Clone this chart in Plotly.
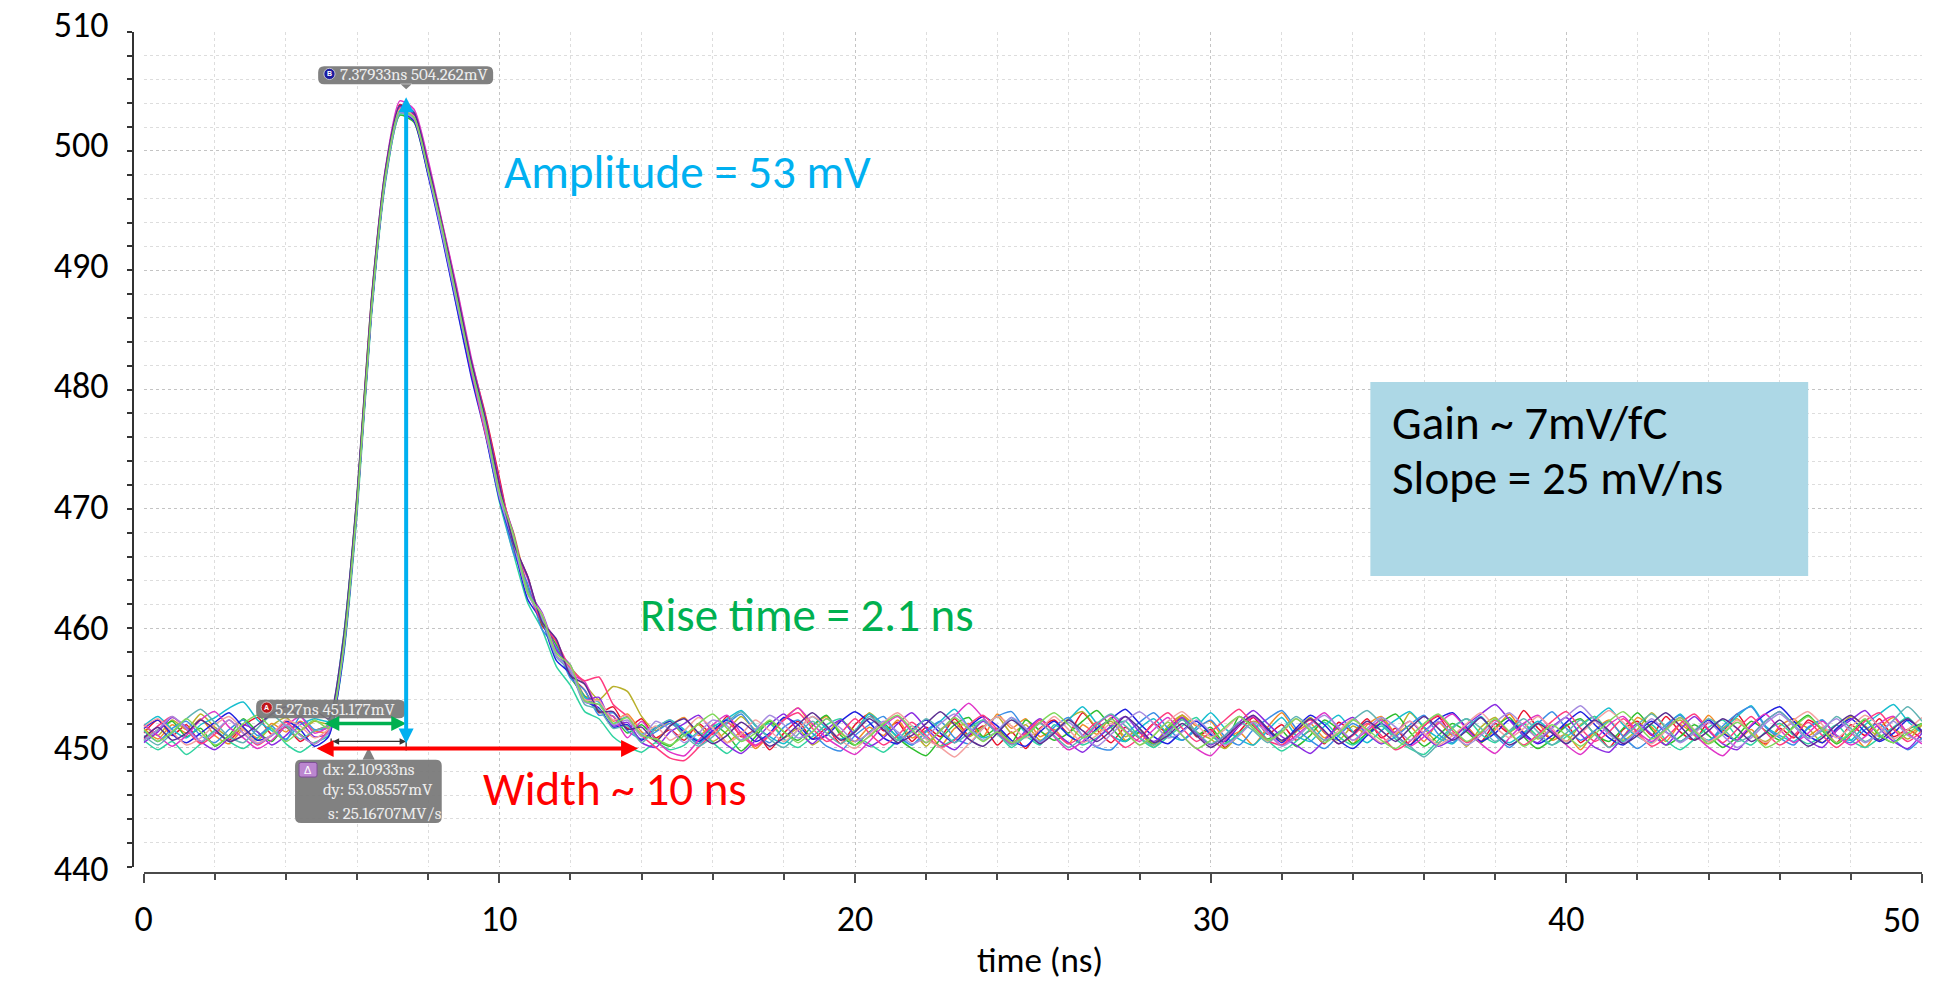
import plotly.graph_objects as go

# ---------------- data ----------------
time_ns = [
    0.0, 0.4, 0.8, 1.2, 1.6, 2.0, 2.4, 2.8, 3.2, 3.6, 4.0, 4.4, 4.8,
    5.2, 5.6, 6.0, 6.4, 6.8, 7.2, 7.6, 8.0, 8.4, 8.8, 9.2, 9.6, 10.0, 10.4, 10.8, 11.2, 11.6, 12.0, 12.4, 12.8, 13.2, 13.6, 14.0, 14.4, 14.8,
    15.2, 15.6, 16.0, 16.4, 16.8, 17.2, 17.6, 18.0, 18.4, 18.8, 19.2,
    19.6, 20.0, 20.4, 20.8, 21.2, 21.6, 22.0, 22.4, 22.8, 23.2, 23.6,
    24.0, 24.4, 24.8, 25.2, 25.6, 26.0, 26.4, 26.8, 27.2, 27.6, 28.0,
    28.4, 28.8, 29.2, 29.6, 30.0, 30.4, 30.8, 31.2, 31.6, 32.0, 32.4,
    32.8, 33.2, 33.6, 34.0, 34.4, 34.8, 35.2, 35.6, 36.0, 36.4, 36.8,
    37.2, 37.6, 38.0, 38.4, 38.8, 39.2, 39.6, 40.0, 40.4, 40.8, 41.2,
    41.6, 42.0, 42.4, 42.8, 43.2, 43.6, 44.0, 44.4, 44.8, 45.2, 45.6,
    46.0, 46.4, 46.8, 47.2, 47.6, 48.0, 48.4, 48.8, 49.2, 49.6, 50.0,
]

sig_01 = [
    451.2, 452.3, 451.0, 451.9, 450.4, 451.3, 450.6, 451.8, 452.5, 451.1, 451.7, 450.5, 451.4,
    451.9, 458.4, 470.9, 487.1, 498.3, 503.9, 503.0, 498.9, 493.8, 488.4, 482.6, 478.0, 472.6, 467.1, 464.3, 460.2, 458.9, 456.0, 454.8, 452.9, 453.4, 451.6, 452.4, 450.8, 451.5,
    450.6, 452.0, 451.1, 452.6, 450.9, 451.4, 449.8, 451.2, 452.2, 450.7, 451.6,
    450.3, 451.9, 452.8, 451.4, 452.1, 450.5, 451.7, 450.9, 452.4, 451.0, 451.8,
    450.2, 451.3, 449.9, 451.6, 452.3, 451.2, 452.9, 451.5, 450.4, 451.7, 450.8,
    452.0, 451.2, 452.7, 450.9, 451.5, 450.0, 451.3, 452.5, 451.1, 451.9, 450.6,
    451.4, 450.3, 452.1, 451.3, 452.4, 450.8, 451.6, 450.2, 451.8, 452.6, 451.0,
    451.7, 450.5, 452.0, 451.2, 453.1, 451.6, 450.7, 451.9, 450.4, 451.3, 450.0,
    451.5, 452.2, 451.0, 452.6, 451.3, 450.6, 452.1, 451.4, 452.8, 451.1, 450.3,
    451.6, 450.8, 452.3, 451.5, 450.4, 451.9, 451.0, 452.4, 450.9, 451.5, 450.7,
]
sig_02 = [
    451.6, 450.7, 451.9, 451.2, 452.4, 451.0, 450.3, 451.5, 450.8, 452.0, 451.3, 452.2, 451.4,
    451.3, 457.6, 470.0, 486.5, 497.8, 503.5, 503.2, 498.8, 493.0, 487.9, 482.3, 477.5, 471.2, 468.0, 463.4, 461.0, 458.1, 456.7, 454.3, 453.9, 452.2, 452.8, 451.3, 450.6, 451.8,
    452.5, 451.0, 451.8, 450.4, 451.3, 449.9, 451.1, 452.4, 453.3, 451.9, 452.6,
    451.2, 450.5, 451.7, 451.0, 452.3, 450.8, 451.4, 450.1, 451.6, 452.0, 450.9,
    452.8, 451.6, 452.4, 450.9, 451.5, 450.3, 451.9, 451.1, 452.5, 450.6, 451.2,
    450.0, 451.4, 452.7, 451.8, 452.2, 450.7, 451.3, 450.2, 451.7, 452.9, 451.4,
    452.0, 450.8, 451.6, 450.3, 451.9, 452.6, 451.2, 451.8, 450.5, 452.1, 451.0,
    451.7, 450.4, 451.5, 452.8, 451.3, 452.0, 450.6, 451.1, 449.8, 451.4, 452.3,
    451.0, 452.5, 451.7, 450.5, 451.9, 451.2, 452.7, 451.3, 450.6, 451.5, 450.2,
    451.8, 452.4, 451.0, 451.7, 450.3, 451.2, 450.0, 451.6, 452.5, 451.1, 451.9,
]
sig_03 = [
    451.9, 451.0, 452.3, 451.5, 452.8, 451.7, 450.9, 451.6, 450.6, 451.8, 452.5, 451.4, 452.2,
    452.0, 458.6, 471.2, 487.4, 498.2, 503.2, 502.6, 498.2, 493.1, 487.2, 481.7, 476.8, 471.0, 466.6, 463.0, 460.9, 457.7, 456.7, 455.3, 454.0, 455.1, 454.7, 452.6, 451.4, 452.2,
    451.0, 451.9, 450.5, 451.4, 452.6, 451.5, 452.2, 450.8, 451.6, 450.2, 451.1,
    452.3, 451.4, 452.9, 451.8, 450.6, 451.4, 450.1, 451.5, 452.1, 450.9, 451.7,
    452.6, 451.2, 451.9, 450.6, 451.3, 452.4, 453.0, 451.7, 452.2, 450.9, 451.5,
    450.3, 451.8, 452.7, 451.3, 450.7, 449.9, 451.1, 452.2, 451.6, 450.5, 451.3,
    452.5, 451.2, 450.6, 451.8, 451.1, 452.4, 451.0, 452.9, 451.6, 450.4, 451.2,
    450.1, 451.7, 452.5, 451.3, 452.0, 450.7, 451.4, 450.5, 451.9, 452.6, 451.3,
    450.6, 451.5, 452.9, 451.7, 452.3, 451.0, 450.3, 451.6, 452.4, 451.2, 450.5,
    451.3, 452.1, 451.6, 450.4, 451.5, 452.6, 451.8, 450.9, 451.6, 450.7, 451.9,
]
sig_04 = [
    450.6, 451.5, 452.2, 450.9, 451.6, 450.1, 451.0, 452.4, 451.3, 450.5, 451.8, 451.1, 450.3,
    451.4, 457.8, 470.3, 486.4, 497.6, 503.0, 502.4, 498.0, 493.6, 488.1, 482.0, 477.4, 471.6, 467.2, 463.3, 460.4, 458.6, 455.9, 454.3, 453.0, 452.6, 451.2, 451.9, 450.7, 450.1,
    451.2, 450.3, 451.9, 451.1, 449.7, 450.9, 452.2, 451.3, 450.6, 451.8, 452.7,
    451.0, 450.2, 451.3, 452.0, 450.8, 449.9, 449.3, 450.7, 451.9, 452.5, 450.9,
    451.6, 450.4, 452.3, 451.4, 450.6, 451.2, 452.2, 453.1, 451.7, 450.5, 451.3,
    450.2, 451.6, 452.4, 451.0, 451.7, 450.3, 452.6, 451.8, 450.7, 451.4, 450.1,
    451.0, 452.3, 451.5, 450.3, 451.2, 452.1, 452.8, 451.3, 450.1, 451.0, 452.0,
    451.3, 450.4, 451.7, 452.5, 450.9, 449.9, 450.7, 451.8, 452.4, 451.1, 450.5,
    451.6, 452.9, 451.5, 450.2, 450.9, 451.9, 451.0, 450.0, 450.9, 452.2, 451.4,
    450.6, 451.8, 452.7, 451.4, 450.3, 451.2, 452.3, 451.0, 450.4, 451.5, 452.0,
]
sig_05 = [
    450.6, 449.8, 450.5, 449.4, 450.3, 451.4, 450.5, 449.9, 450.8, 451.6, 450.3, 449.6, 450.4,
    451.0, 457.2, 469.6, 486.0, 497.4, 503.1, 502.7, 498.1, 492.8, 487.0, 481.4, 476.5, 470.6, 466.2, 462.1, 459.9, 456.8, 455.2, 453.0, 452.4, 450.9, 450.1, 449.6, 450.4, 449.8,
    450.2, 451.3, 450.4, 449.5, 450.6, 451.4, 452.0, 450.7, 450.0, 450.9, 451.9,
    452.4, 451.0, 450.3, 449.6, 450.6, 451.8, 450.8, 450.1, 450.7, 451.6, 452.3,
    451.2, 450.0, 450.9, 450.2, 451.9, 451.1, 450.2, 450.8, 451.7, 452.2, 450.8,
    450.0, 450.9, 451.8, 452.5, 451.0, 450.3, 451.2, 452.0, 450.6, 449.7, 450.5,
    451.5, 452.1, 450.9, 450.2, 451.0, 451.8, 450.7, 449.9, 449.4, 450.6, 451.7,
    452.4, 451.1, 450.4, 451.3, 452.0, 450.9, 450.2, 450.9, 451.8, 452.6, 451.2,
    450.5, 451.2, 451.9, 450.6, 449.8, 450.7, 451.7, 452.3, 450.9, 450.2, 451.3,
    452.0, 451.0, 450.3, 451.0, 451.9, 450.6, 450.0, 450.8, 451.7, 452.5, 451.1,
]
sig_06 = [
    451.8, 452.6, 451.5, 450.8, 451.9, 452.5, 453.3, 453.8, 452.3, 451.4, 450.7, 451.9, 452.4,
    452.2, 458.9, 471.0, 486.9, 498.4, 503.8, 503.3, 499.0, 493.5, 488.0, 482.4, 477.3, 471.5, 467.6, 463.1, 461.1, 458.0, 456.6, 454.2, 453.8, 452.0, 452.6, 451.1, 451.7, 452.3,
    451.5, 450.6, 451.7, 452.4, 453.1, 451.8, 450.9, 450.3, 451.5, 452.6, 451.6,
    450.7, 451.4, 452.8, 451.9, 450.9, 450.2, 451.3, 452.2, 453.2, 451.7, 450.8,
    451.3, 452.5, 451.2, 450.4, 451.3, 452.3, 453.4, 452.0, 451.0, 450.5, 451.6,
    452.4, 451.1, 450.6, 451.7, 452.9, 451.6, 450.7, 450.2, 451.4, 452.5, 451.0,
    450.5, 451.8, 452.7, 451.3, 450.4, 451.4, 452.3, 453.0, 451.7, 450.8, 450.3,
    451.6, 452.6, 451.1, 450.4, 451.2, 452.2, 451.3, 450.3, 451.3, 452.4, 453.3,
    451.9, 450.9, 450.4, 451.7, 452.8, 451.4, 450.6, 451.5, 452.6, 453.5, 451.8,
    451.0, 450.5, 451.6, 452.3, 451.0, 450.6, 451.9, 452.8, 453.6, 452.2, 451.2,
]
sig_07 = [
    451.4, 450.5, 451.6, 452.2, 451.0, 450.4, 451.5, 452.3, 451.0, 451.8, 450.6, 452.6, 451.5,
    451.7, 458.2, 470.6, 486.6, 497.9, 503.4, 502.8, 498.3, 493.0, 487.4, 481.5, 476.9, 471.1, 466.3, 463.7, 459.9, 458.4, 455.8, 454.8, 452.7, 452.9, 451.4, 450.7, 451.3, 452.0,
    451.2, 450.3, 451.4, 452.0, 452.8, 451.3, 450.4, 451.7, 452.3, 451.2, 450.1,
    449.7, 451.0, 451.9, 452.6, 451.1, 450.2, 451.4, 452.2, 450.8, 450.3, 451.6,
    452.6, 453.0, 451.4, 450.5, 451.7, 452.5, 451.0, 450.0, 449.8, 451.1, 452.1,
    452.9, 451.6, 450.6, 451.5, 452.3, 450.9, 450.2, 451.5, 452.4, 453.1, 451.6,
    450.6, 449.9, 451.0, 452.0, 451.2, 450.3, 450.9, 451.9, 452.7, 451.1, 450.4,
    451.6, 452.5, 451.0, 450.0, 451.1, 452.0, 453.0, 451.6, 450.6, 451.4, 452.2,
    450.9, 449.9, 450.8, 451.9, 452.7, 451.2, 450.5, 451.8, 452.8, 453.4, 451.7,
    450.8, 450.2, 451.7, 452.3, 450.9, 450.4, 451.5, 452.0, 450.7, 449.8, 450.8,
]
sig_08 = [
    451.6, 452.3, 451.1, 450.4, 451.2, 452.1, 452.9, 451.7, 450.6, 451.0, 452.2, 451.5, 450.1,
    450.9, 457.4, 470.1, 486.3, 497.7, 503.3, 502.5, 497.9, 492.6, 486.9, 481.2, 476.3, 470.8, 466.9, 462.4, 460.6, 457.3, 456.2, 453.9, 453.3, 451.7, 451.9, 450.6, 451.6, 452.2,
    451.3, 450.5, 451.4, 452.3, 451.6, 450.5, 451.2, 452.5, 451.9, 450.7, 451.0,
    452.2, 453.0, 452.1, 450.8, 450.3, 451.5, 452.3, 451.2, 450.4, 451.7, 452.6,
    451.8, 450.6, 450.1, 451.3, 452.2, 451.0, 450.4, 451.6, 452.4, 453.2, 452.0,
    450.9, 450.3, 451.4, 452.2, 451.1, 450.5, 451.8, 452.6, 451.5, 450.4, 451.6,
    452.7, 451.9, 450.6, 449.9, 451.0, 452.0, 451.0, 450.2, 451.3, 452.4, 452.9,
    451.6, 450.5, 451.2, 452.3, 451.2, 450.3, 451.0, 452.1, 453.0, 451.9, 450.8,
    450.2, 451.3, 452.2, 451.3, 450.5, 451.4, 452.3, 451.2, 450.6, 451.8, 452.8,
    453.4, 452.2, 451.0, 450.4, 451.6, 452.4, 451.3, 450.5, 451.2, 452.3, 451.4,
]
sig_09 = [
    450.4, 451.3, 452.5, 451.7, 450.5, 449.8, 450.8, 451.9, 451.3, 450.2, 451.0, 452.1, 450.9,
    451.2, 457.9, 470.4, 486.6, 498.1, 503.7, 503.1, 498.7, 493.4, 487.9, 481.6, 477.2, 471.7, 467.9, 463.2, 461.3, 458.2, 456.9, 454.0, 454.2, 451.8, 452.1, 450.4, 450.0, 451.3,
    452.0, 452.7, 451.3, 450.2, 449.5, 450.6, 451.9, 452.8, 451.4, 450.3, 451.5,
    452.3, 451.0, 450.1, 450.8, 452.0, 452.9, 451.6, 450.5, 449.8, 451.0, 452.2,
    451.2, 450.3, 451.4, 452.4, 451.3, 450.4, 449.6, 450.7, 451.8, 452.6, 451.3,
    450.5, 451.4, 452.5, 451.2, 450.2, 451.0, 452.1, 453.1, 452.0, 450.9, 450.2,
    449.5, 450.6, 451.8, 452.5, 451.2, 450.3, 451.3, 452.2, 451.0, 450.1, 450.7,
    451.9, 452.8, 453.6, 452.3, 451.0, 450.4, 451.7, 452.5, 451.1, 450.0, 449.6,
    450.9, 452.0, 451.1, 450.2, 451.5, 452.6, 451.4, 450.3, 449.8, 451.0, 452.2,
    453.0, 451.8, 450.6, 450.0, 451.4, 452.3, 453.1, 451.6, 450.5, 449.9, 451.2,
]
sig_10 = [
    451.9, 451.0, 450.1, 451.0, 452.3, 453.0, 451.7, 450.8, 449.9, 450.6, 451.8, 452.6, 451.2,
    451.8, 458.3, 470.8, 487.3, 498.6, 504.2, 503.5, 499.2, 493.9, 488.6, 482.8, 477.8, 472.3, 467.2, 464.1, 460.7, 459.0, 456.2, 455.5, 453.1, 452.6, 450.8, 452.2, 450.6, 449.6,
    449.3, 450.6, 451.9, 452.7, 451.2, 450.2, 451.1, 452.3, 453.3, 452.0, 450.8,
    450.0, 449.4, 450.5, 451.8, 452.6, 451.3, 450.4, 451.4, 452.6, 453.7, 452.5,
    451.3, 450.3, 451.1, 452.1, 450.9, 449.8, 450.5, 451.9, 452.7, 451.4, 450.5,
    451.5, 452.5, 451.0, 449.9, 449.3, 450.6, 451.8, 452.6, 451.3, 450.2, 451.0,
    452.0, 452.9, 451.6, 450.6, 451.4, 452.3, 451.0, 450.1, 450.9, 452.0, 452.8,
    451.5, 450.3, 449.5, 450.8, 452.0, 452.7, 451.4, 450.2, 449.4, 450.6, 451.9,
    452.6, 451.3, 450.5, 451.6, 452.5, 451.1, 450.0, 449.3, 450.6, 451.9, 452.8,
    451.5, 450.4, 451.2, 452.2, 451.0, 450.2, 450.9, 452.0, 452.6, 451.2, 450.3,
]
sig_11 = [
    450.7, 451.8, 452.6, 451.5, 450.3, 451.1, 452.3, 451.2, 450.2, 451.0, 452.1, 451.0, 450.3,
    451.5, 458.1, 470.7, 487.0, 498.2, 503.6, 502.7, 498.4, 493.2, 487.5, 481.8, 476.4, 471.9, 467.7, 463.1, 460.5, 458.9, 456.6, 455.6, 455.9, 453.6, 452.6, 451.0, 450.0, 449.1,
    448.9, 450.0, 451.2, 452.1, 451.0, 450.1, 451.0, 452.3, 452.9, 451.6, 450.5,
    451.2, 452.4, 451.2, 450.2, 451.0, 452.1, 451.0, 450.0, 450.6, 451.9, 452.7,
    451.5, 450.4, 451.2, 452.3, 451.3, 450.3, 451.0, 452.1, 451.0, 450.0, 450.8,
    452.0, 452.9, 451.6, 450.5, 451.3, 452.3, 453.2, 451.9, 450.6, 450.2, 451.4,
    452.3, 451.3, 450.3, 451.0, 452.0, 451.0, 449.8, 450.5, 451.8, 452.7, 451.4,
    450.4, 451.2, 452.3, 451.2, 450.2, 451.1, 452.2, 453.0, 451.6, 450.5, 451.3,
    452.4, 451.2, 450.1, 450.8, 452.0, 452.8, 451.5, 450.4, 451.5, 452.6, 451.3,
    450.2, 451.0, 452.1, 451.0, 450.0, 451.0, 452.2, 452.9, 451.5, 450.5, 451.4,
]
sig_12 = [
    451.7, 452.4, 451.3, 450.2, 450.8, 451.9, 452.6, 451.5, 450.4, 451.1, 452.3, 451.8, 450.8,
    451.6, 458.1, 470.6, 486.9, 498.1, 503.5, 502.9, 498.6, 493.5, 487.8, 482.1, 477.0, 471.4, 467.5, 462.9, 461.2, 457.9, 456.8, 454.0, 453.9, 452.3, 452.7, 451.0, 451.8, 450.6,
    451.4, 452.5, 451.6, 450.4, 451.1, 452.3, 451.4, 450.5, 451.5, 452.6, 451.8,
    450.6, 449.9, 451.0, 452.1, 452.9, 451.8, 450.7, 450.0, 449.2, 450.3, 451.6,
    452.6, 451.8, 450.8, 451.5, 452.6, 451.5, 450.4, 451.0, 452.0, 451.3, 450.2,
    451.0, 452.2, 453.0, 451.9, 450.9, 451.5, 452.6, 451.6, 450.5, 451.2, 452.4,
    451.5, 450.6, 451.4, 452.4, 451.3, 450.4, 451.2, 452.2, 451.2, 450.2, 451.0,
    452.0, 452.9, 451.7, 450.8, 451.6, 452.6, 451.6, 450.5, 451.2, 452.2, 453.1,
    452.1, 451.0, 450.3, 451.4, 452.5, 451.5, 450.5, 451.2, 452.3, 451.2, 450.4,
    451.2, 452.3, 453.0, 451.9, 450.8, 451.7, 452.7, 451.8, 450.7, 451.5, 452.5,
]
sig_13 = [
    451.0, 450.2, 451.2, 452.4, 453.2, 452.1, 450.9, 450.4, 451.6, 452.7, 451.8, 450.7, 451.4,
    451.9, 458.5, 470.9, 486.7, 497.9, 503.3, 502.8, 498.3, 493.1, 487.6, 482.2, 477.6, 471.2, 467.3, 463.2, 460.7, 457.6, 456.4, 453.6, 453.2, 451.6, 451.8, 450.4, 451.6, 452.3,
    451.0, 450.1, 450.9, 452.1, 453.0, 451.9, 450.7, 450.0, 451.1, 452.2, 451.2,
    450.3, 451.3, 452.6, 451.7, 450.6, 451.3, 452.4, 451.5, 450.4, 451.2, 452.3,
    451.1, 450.2, 450.9, 452.0, 451.0, 450.0, 450.8, 452.0, 452.8, 451.8, 450.8,
    450.2, 451.2, 452.3, 451.3, 450.3, 451.0, 452.1, 451.4, 450.4, 451.5, 452.6,
    451.7, 450.6, 451.2, 452.3, 453.1, 452.0, 450.9, 450.1, 449.2, 450.3, 451.6,
    452.4, 451.6, 450.5, 451.4, 452.4, 451.3, 450.2, 451.2, 452.3, 451.1, 450.0,
    450.8, 451.9, 452.8, 451.7, 450.5, 451.4, 452.4, 451.6, 450.5, 451.0, 452.2,
    453.0, 451.9, 450.8, 451.4, 452.6, 451.6, 450.5, 451.2, 452.3, 453.4, 452.2,
]
sig_14 = [
    450.6, 451.5, 452.6, 451.6, 450.5, 451.3, 452.3, 451.2, 450.3, 451.0, 451.9, 451.0, 450.3,
    451.3, 457.7, 470.2, 486.5, 497.7, 503.2, 502.7, 498.2, 492.9, 487.3, 481.9, 476.7, 471.0, 467.1, 462.8, 460.9, 457.7, 456.5, 453.8, 453.6, 451.9, 452.3, 450.9, 452.2, 451.5,
    450.4, 451.2, 452.3, 451.8, 450.6, 451.5, 452.7, 451.9, 450.8, 451.3, 452.4,
    451.6, 450.5, 451.2, 452.2, 451.3, 450.3, 450.9, 452.0, 452.8, 451.7, 450.6,
    451.4, 452.5, 451.6, 450.4, 451.2, 452.1, 451.0, 450.1, 451.1, 452.2, 453.0,
    452.0, 450.8, 451.3, 452.3, 451.3, 450.2, 451.0, 452.1, 451.2, 450.1, 450.8,
    451.9, 452.7, 451.7, 450.6, 451.6, 452.5, 451.7, 450.6, 451.3, 452.2, 451.1,
    450.2, 451.0, 452.1, 452.9, 451.8, 450.8, 451.6, 452.6, 453.5, 452.3, 451.1,
    450.4, 451.3, 452.4, 451.3, 450.4, 451.2, 452.1, 451.0, 450.0, 450.8, 452.0,
    452.8, 451.8, 450.7, 451.6, 452.4, 451.3, 450.4, 451.2, 452.2, 451.0, 450.5,
]
sig_15 = [
    450.8, 451.7, 450.6, 451.2, 452.3, 451.5, 450.5, 451.0, 451.9, 452.8, 453.4, 452.6, 453.1,
    452.4, 458.8, 471.3, 487.5, 498.5, 503.8, 503.2, 498.8, 493.7, 488.2, 482.5, 477.7, 472.1, 467.1, 464.3, 460.5, 459.1, 456.0, 455.3, 453.0, 453.0, 451.5, 451.7, 450.5, 451.8,
    452.4, 451.2, 450.3, 451.0, 452.1, 451.2, 450.1, 450.8, 451.9, 452.9, 451.8,
    450.6, 451.3, 452.4, 451.5, 450.4, 451.0, 452.0, 453.0, 451.9, 450.7, 450.1,
    451.2, 452.3, 451.4, 450.3, 451.2, 452.3, 451.4, 450.5, 451.4, 452.6, 451.6,
    450.4, 451.0, 452.0, 451.0, 450.0, 450.8, 451.9, 452.7, 451.6, 450.6, 451.4,
    452.4, 451.4, 450.3, 451.1, 452.2, 451.4, 450.5, 451.6, 452.6, 451.6, 450.6,
    451.4, 452.5, 451.2, 450.2, 450.9, 452.0, 451.2, 450.3, 451.3, 452.3, 451.4,
    450.3, 451.0, 452.0, 452.9, 451.8, 450.6, 451.4, 452.4, 451.6, 450.5, 451.2,
    452.3, 451.1, 450.1, 450.8, 451.9, 452.7, 451.7, 450.6, 451.6, 452.4, 451.3,
]
sig_16 = [
    451.5, 450.5, 451.3, 452.4, 451.3, 450.2, 450.9, 452.0, 452.7, 451.6, 450.5, 451.4, 452.3,
    451.6, 458.0, 470.4, 486.7, 498.0, 503.4, 502.8, 498.4, 493.4, 487.7, 482.0, 477.2, 471.4, 467.8, 462.9, 461.1, 457.9, 456.9, 453.9, 453.6, 452.0, 452.5, 451.0, 450.7, 450.2,
    451.0, 452.0, 452.8, 451.6, 450.5, 451.2, 452.3, 451.3, 450.4, 451.3, 452.4,
    451.3, 450.2, 450.9, 452.0, 452.7, 451.5, 450.4, 451.4, 452.5, 451.5, 450.5,
    451.3, 450.4, 451.0, 452.1, 452.9, 451.9, 450.8, 451.4, 452.4, 451.3, 450.2,
    451.0, 452.1, 451.0, 449.9, 450.6, 451.7, 452.6, 451.6, 450.6, 451.3, 452.4,
    451.4, 450.4, 451.2, 452.3, 451.5, 450.6, 449.9, 450.9, 452.0, 452.8, 451.6,
    450.5, 451.3, 452.4, 451.3, 450.1, 450.9, 451.9, 451.0, 450.1, 451.1, 452.2,
    453.0, 451.9, 450.7, 451.5, 452.5, 451.4, 450.3, 451.1, 452.1, 451.2, 450.0,
    450.6, 451.7, 452.6, 451.5, 450.4, 451.3, 452.4, 451.1, 450.4, 451.2, 452.0,
]

signals = [sig_01, sig_02, sig_03, sig_04, sig_05, sig_06, sig_07, sig_08,
           sig_09, sig_10, sig_11, sig_12, sig_13, sig_14, sig_15, sig_16]
trace_colors = ["#E8112D", "#F28C28", "#B8B02A", "#2DBE2D", "#2FD3A0", "#17BECF",
                "#3A8EE6", "#1F1FE0", "#8A2BE2", "#E034C8", "#FF3B7F", "#F4A0A0",
                "#5FB3B3", "#A68BE0", "#5A2D91", "#7FD85A"]

for s in signals:
    assert len(s) == len(time_ns), len(s)

# cursor readouts
cursor_a = (5.27, 451.177)
cursor_b = (7.37933, 504.262)
delta_lines = ["dx: 2.10933ns", "dy: 53.08557mV", "s: 25.16707MV/s"]

x_tick_vals = [0, 10, 20, 30, 40, 50]
x_tick_text = ["0", "10", "20", "30", "40", ""]
y_tick_vals = [440, 450, 460, 470, 480, 490, 500, 510]

# ---------------- layout geometry (pixels) ----------------
FIG_W, FIG_H = 1934, 985
ML, MR, MT, MB = 100, 12, 5, 100
PW, PH = FIG_W - ML - MR, FIG_H - MT - MB


def fx(px):
    return (px - ML) / PW


def fy(py):
    return (FIG_H - MB - py) / PH


PLOT_L, PLOT_T, PLOT_B = 143.7, 31.7, 866.7
FONT = "Calibri, Carlito, Lato, sans-serif"
CUR_FONT = "Cambria, 'Liberation Serif', 'DejaVu Serif', serif"
TICK_SIZE = 36
BIG = 47

fig = go.Figure()
for s, c in zip(signals, trace_colors):
    fig.add_trace(go.Scatter(x=time_ns, y=s, mode="lines",
                             line=dict(color=c, width=1.5, shape="spline", smoothing=0.6),
                             hoverinfo="skip", showlegend=False))
# helper (empty) traces to hold the decorative axes
fig.add_trace(go.Scatter(x=[], y=[], xaxis="x2", yaxis="y2", showlegend=False, hoverinfo="skip"))
fig.add_trace(go.Scatter(x=[], y=[], xaxis="x3", yaxis="y3", showlegend=False, hoverinfo="skip"))

grid_major = "#C4C4C4"
grid_minor = "#DDDDDD"
axis_col = "#4A4A4A"

# label axis range so that labels land where the reference puts them
lab_450_px, lab_step_px = 747.5, 12.06
y3_lo = 450 - ((FIG_H - MB) - lab_450_px) / lab_step_px
y3_hi = 450 + (lab_450_px - MT) / lab_step_px

fig.update_layout(
    width=FIG_W, height=FIG_H,
    margin=dict(l=ML, r=MR, t=MT, b=MB, autoexpand=False),
    paper_bgcolor="white", plot_bgcolor="rgba(0,0,0,0)",
    hovermode=False, showlegend=False,
    font=dict(family=FONT, color="black"),
    xaxis=dict(domain=[fx(PLOT_L), 1], range=[0, 50], anchor="y",
               tickmode="linear", tick0=0, dtick=10,
               showgrid=True, gridcolor=grid_major, griddash="dot", gridwidth=1,
               minor=dict(tickmode="linear", tick0=0, dtick=2, showgrid=True,
                          gridcolor=grid_minor, griddash="dot", gridwidth=1),
               showticklabels=False, ticks="", zeroline=False, showline=False),
    yaxis=dict(domain=[fy(PLOT_B), fy(PLOT_T)], range=[440, 510], anchor="x",
               tickmode="linear", tick0=440, dtick=10,
               showgrid=True, gridcolor=grid_major, griddash="dot", gridwidth=1,
               minor=dict(tickmode="linear", tick0=440, dtick=2, showgrid=True,
                          gridcolor=grid_minor, griddash="dot", gridwidth=1),
               showticklabels=False, ticks="", zeroline=False, showline=False),
    xaxis2=dict(overlaying="x", range=[0, 50], anchor="free", position=fy(873.3),
                tickmode="array", tickvals=x_tick_vals, ticktext=x_tick_text,
                ticks="outside", ticklen=9, tickwidth=1.5, tickcolor=axis_col,
                minor=dict(tickmode="linear", tick0=0, dtick=2, ticks="outside",
                           ticklen=6, tickwidth=1.5, tickcolor=axis_col, showgrid=False),
                showline=True, linecolor=axis_col, linewidth=2,
                showgrid=False, zeroline=False,
                tickfont=dict(family=FONT, size=TICK_SIZE, color="black"),
                ticklabelstandoff=4),
    yaxis2=dict(overlaying="y", range=[440, 510], anchor="free", position=fx(133.3), side="left",
                tickmode="linear", tick0=440, dtick=2,
                ticks="outside", ticklen=5, tickwidth=1.5, tickcolor="#333333",
                showline=True, linecolor="#333333", linewidth=2,
                showticklabels=False, showgrid=False, zeroline=False),
    xaxis3=dict(domain=[fx(PLOT_L), 1], range=[0, 50], anchor="y3", visible=False),
    yaxis3=dict(domain=[0, 1], range=[y3_lo, y3_hi], anchor="free", position=fx(108.5), side="left",
                tickmode="array", tickvals=y_tick_vals, ticks="", ticklabeloverflow="allow",
                showline=False, showgrid=False, zeroline=False,
                tickfont=dict(family=FONT, size=TICK_SIZE, color="black")),
)

shapes = []
annots = []

# "50" tick label (kept inside the page like the reference)
annots.append(dict(x=50, y=fy(920), xref="x", yref="paper", text="50", showarrow=False,
                   xanchor="right", yanchor="middle", font=dict(family=FONT, size=TICK_SIZE, color="black")))
# axis title
annots.append(dict(x=fx(1040), y=fy(960), xref="paper", yref="paper", text="time (ns)",
                   showarrow=False, xanchor="center", yanchor="middle",
                   font=dict(family=FONT, size=35, color="black")))

# info box
shapes.append(dict(type="rect", xref="x", yref="y", x0=34.49, x1=46.8, y0=464.38, y1=480.64,
                   fillcolor="#ADD8E6", line=dict(width=0), layer="above"))
annots.append(dict(x=35.05, y=477.2, xref="x", yref="y", text="Gain ~ 7mV/fC",
                   showarrow=False, xanchor="left", yanchor="middle",
                   font=dict(family=FONT, size=BIG, color="black")))
annots.append(dict(x=35.05, y=472.55, xref="x", yref="y", text="Slope = 25 mV/ns",
                   showarrow=False, xanchor="left", yanchor="middle",
                   font=dict(family=FONT, size=BIG, color="black")))

# big coloured labels
annots.append(dict(x=10.08, y=498.2, xref="x", yref="y", text="Amplitude = 53 mV", showarrow=False,
                   xanchor="left", yanchor="middle", font=dict(family=FONT, size=BIG, color="#00B0F0")))
annots.append(dict(x=13.89, y=461.1, xref="x", yref="y", text="Rise time = 2.1 ns", showarrow=False,
                   xanchor="left", yanchor="middle", font=dict(family=FONT, size=BIG, color="#00B050")))
annots.append(dict(x=9.49, y=446.5, xref="x", yref="y", text="Width ~ 10 ns", showarrow=False,
                   xanchor="left", yanchor="middle", font=dict(family=FONT, size=BIG, color="#FF0000")))


def darrow(x0, y0, x1, y1, color, width, size):
    return dict(x=x1, y=y1, ax=x0, ay=y0, xref="x", yref="y", axref="x", ayref="y",
                text="", showarrow=True, arrowside="end+start",
                arrowhead=2, startarrowhead=2, arrowsize=size, startarrowsize=size,
                arrowwidth=width, arrowcolor=color, standoff=0, startstandoff=0)


ax_, ay_ = cursor_a
bx_, by_ = cursor_b
meas_y = 450.5

annots.append(darrow(4.82, 449.9, 13.9, 449.9, "#FF0000", 4, 0.85))
annots.append(darrow(ax_, meas_y, bx_, meas_y, "#333333", 1.3, 1.0))
annots.append(darrow(5.04, 452.0, bx_, 452.0, "#00B050", 3.5, 0.85))
annots.append(darrow(bx_, 450.2, bx_, 504.5, "#00B0F0", 4, 0.75))

for xv in (ax_, bx_):
    shapes.append(dict(type="line", xref="x", yref="y", x0=xv, x1=xv, ysizemode="pixel",
                       yanchor=meas_y, y0=3, y1=-9, line=dict(color="#333333", width=1.3),
                       layer="above"))


def rbox(x0, x1, y0, y1, r):
    return (f"M{x0 + r},{y0} L{x1 - r},{y0} Q{x1},{y0} {x1},{y0 + r} L{x1},{y1 - r} "
            f"Q{x1},{y1} {x1 - r},{y1} L{x0 + r},{y1} Q{x0},{y1} {x0},{y1 - r} "
            f"L{x0},{y0 + r} Q{x0},{y0} {x0 + r},{y0} Z")


box_fill = "rgba(118,118,118,0.92)"
cur_txt = "#EDEDED"


def pix_shape(path, xa, ya, fill, line_col=None, lw=0):
    return dict(type="path", xref="x", yref="y", xsizemode="pixel", ysizemode="pixel",
                xanchor=xa, yanchor=ya, path=path, fillcolor=fill,
                line=dict(width=lw, color=line_col or fill), layer="above")


def pix_circle(xa, ya, cx, cy, r, fill):
    return dict(type="circle", xref="x", yref="y", xsizemode="pixel", ysizemode="pixel",
                xanchor=xa, yanchor=ya, x0=cx - r, x1=cx + r, y0=cy - r, y1=cy + r,
                fillcolor=fill, line=dict(width=0.8, color="#DDDDDD"), layer="above")


def pix_text(xa, ya, dx, dy, text, size, color, anchor="center", bold=False, fam=CUR_FONT):
    t = f"<b>{text}</b>" if bold else text
    return dict(x=xa, y=ya, xref="x", yref="y", text=t, showarrow=False, xshift=dx, yshift=dy,
                xanchor=anchor, yanchor="middle", font=dict(family=fam, size=size, color=color))


CUR_SIZE = 17
# cursor B label
shapes.append(pix_shape(rbox(-88, 87, 16, 34, 6) + " M-6,16.5 L6,16.5 L0,11 Z", bx_, by_, box_fill))
shapes.append(pix_circle(bx_, by_, -76.7, 26.2, 5.6, "#1B1BA0"))
annots.append(pix_text(bx_, by_, -76.7, 26.2, "B", 7, "white", bold=True, fam="Arial, sans-serif"))
annots.append(pix_text(bx_, by_, 8.6, 25.2, f"{bx_:.5f}ns {by_:.3f}mV", CUR_SIZE, cur_txt))

# cursor A label
shapes.append(pix_shape(rbox(-75, 74, 15.2, 33.5, 6) + " M-6,15.5 L6,15.5 L0,10 Z", ax_, ay_, box_fill))
shapes.append(pix_circle(ax_, ay_, -64.4, 25.8, 5.6, "#C0151B"))
annots.append(pix_text(ax_, ay_, -64.4, 25.8, "A", 7, "white", bold=True, fam="Arial, sans-serif"))
annots.append(pix_text(ax_, ay_, 4.4, 24.0, f"{ax_:.2f}ns {ay_:.3f}mV", CUR_SIZE, cur_txt))

# delta label
mx_ = (ax_ + bx_) / 2
shapes.append(pix_shape(rbox(-73.6, 73.1, -81.6, -18.3, 6) + " M-6,-18 L6,-18 L0,-6 Z", mx_, meas_y, box_fill))
shapes.append(pix_shape(rbox(-69.6, -51.6, -35.6, -21, 2), mx_, meas_y, "#BB86D0", "#7E4F96", 1))
annots.append(pix_text(mx_, meas_y, -60.6, -28.3, "Δ", 11, "white", fam="Arial, sans-serif"))
annots.append(pix_text(mx_, meas_y, -47.6, -28.3, delta_lines[0], CUR_SIZE, cur_txt, anchor="left"))
annots.append(pix_text(mx_, meas_y, -47.6, -48.3, delta_lines[1], CUR_SIZE, cur_txt, anchor="left"))
annots.append(pix_text(mx_, meas_y, -42.6, -71.6, delta_lines[2], CUR_SIZE, cur_txt, anchor="left"))

fig.update_layout(shapes=shapes, annotations=annots)

fig.write_html("out.html", include_plotlyjs=True, full_html=True,
               config={"displayModeBar": False},
               post_script="document.body.style.margin='0';document.body.style.overflow='hidden';")
